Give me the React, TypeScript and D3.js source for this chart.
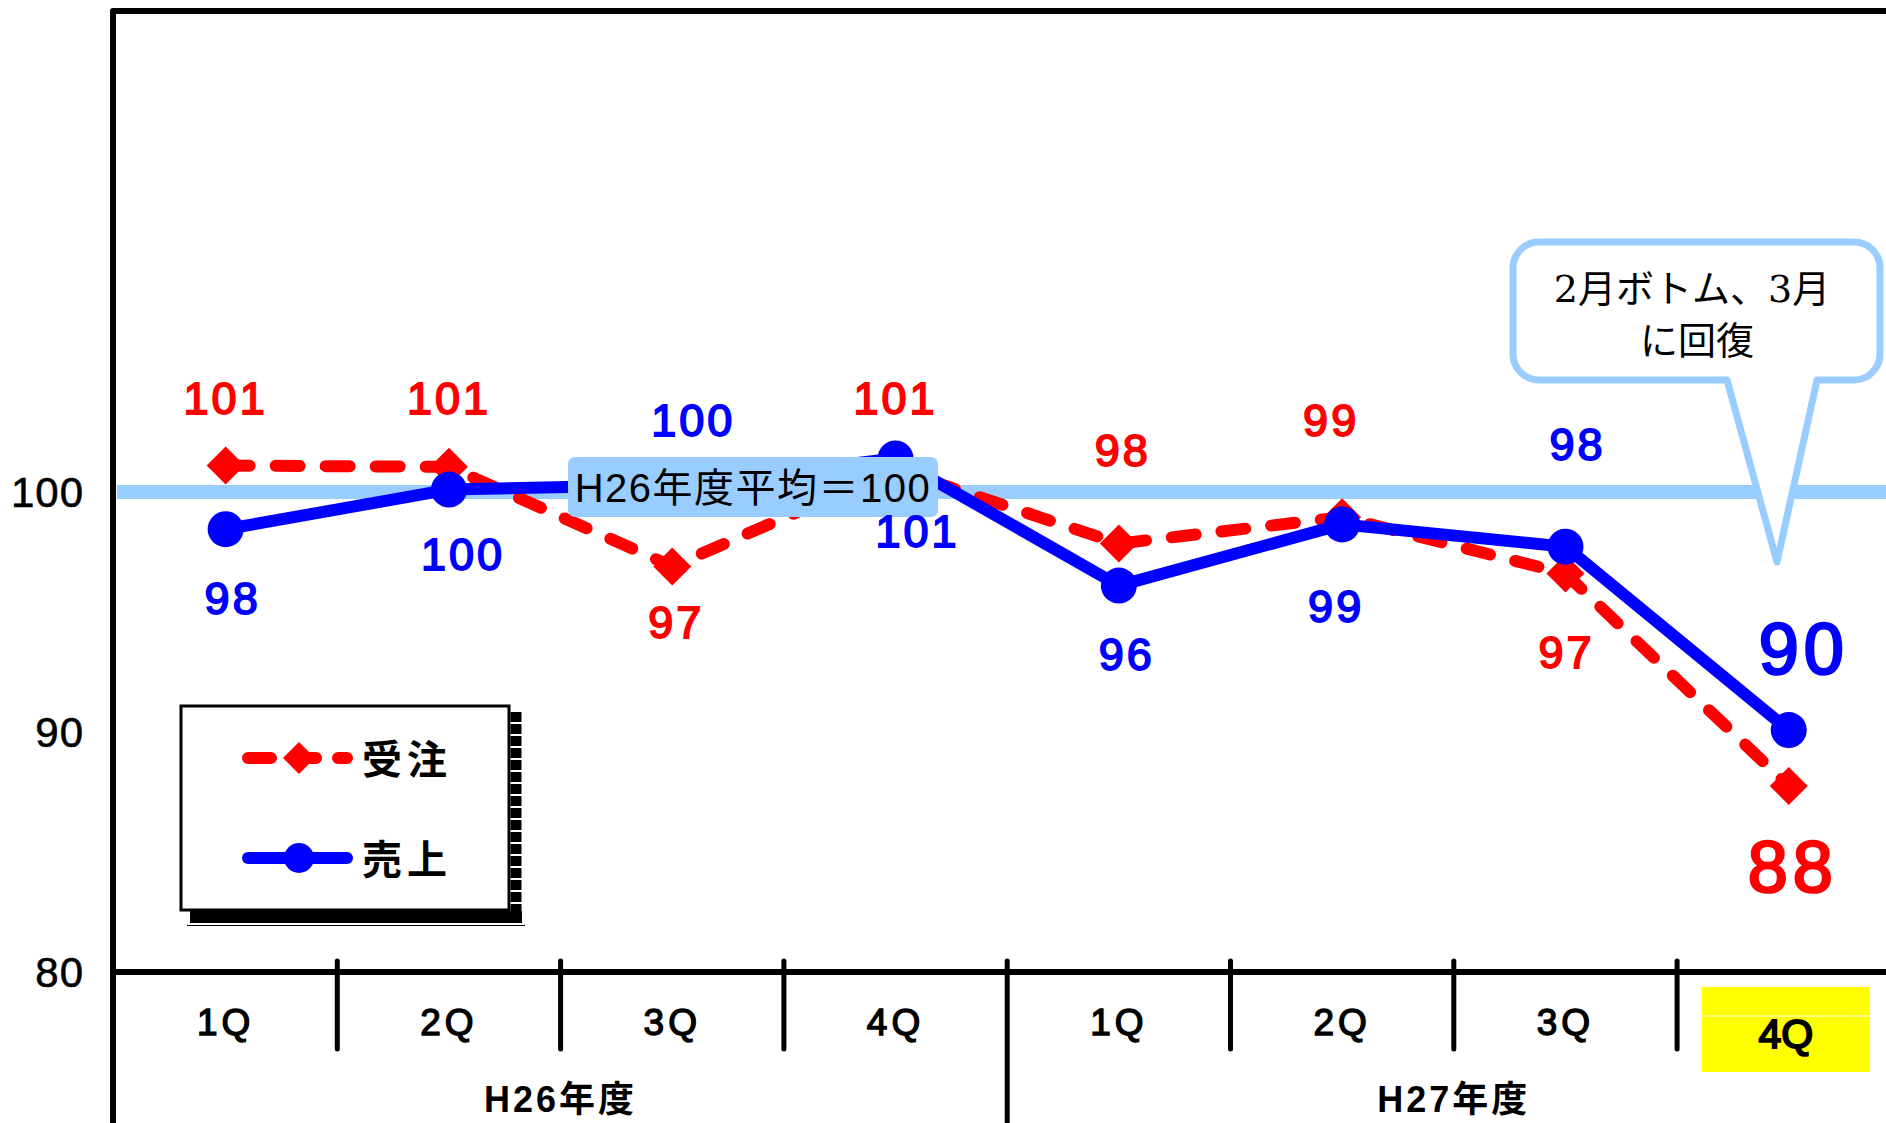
import React from "react";
import * as d3 from "d3";

// ---- data ----
const quarterLabels = ["1Q", "2Q", "3Q", "4Q", "1Q", "2Q", "3Q", "4Q"];
const fiscalYears = ["H26年度", "H27年度"];
const ordersIndex = [101.1, 101.05, 96.9, 100.95, 97.85, 98.95, 96.6, 87.75];
const salesIndex = [98.45, 100.1, 100.3, 101.4, 96.1, 98.65, 97.72, 90.08];
const yTicks = [80, 90, 100];
const baselineValue = 100;
const baselineText = "H26年度平均＝100";
const calloutLines = ["2月ボトム、3月", "に回復"];
const seriesNames = ["受注", "売上"];
const highlightIndex = 7;

// ---- layout (label offsets from points) ----
const orderLabelOffsets = [[0, -68], [0, -69], [4, 55], [0, -71], [4, -94], [-11, -97], [1, 78], [4, 80]];
const salesLabelOffsets = [[7, 69], [14, 64], [21, -65], [22, 72], [8, 68], [-6, 81], [12, -103], [15, -82]];

const W = 1886;
const H = 1123;
const RED = "#FF0000";
const BLUE = "#0000FF";
const LIGHT = "#99CCFF";
const SANS = "'Liberation Sans', 'Noto Sans CJK JP', sans-serif";
const CJK = "'Noto Sans CJK JP', sans-serif";

export default function App() {
  const plotLeft = 114;
  const bandW = 223.3;
  const x = d3
    .scaleBand<number>()
    .domain(d3.range(quarterLabels.length))
    .range([plotLeft, plotLeft + bandW * quarterLabels.length])
    .padding(0);
  const y = d3.scaleLinear().domain([80, 120]).range([972, 12]);
  const cx = (i: number) => (x(i) as number) + x.bandwidth() / 2;
  const axisY = y(80);

  const line = d3
    .line<number>()
    .x((_, i) => cx(i))
    .y((d) => y(d));

  const diamond = (px: number, py: number, r: number) =>
    `M${px},${py - r}L${px + r},${py}L${px},${py + r}L${px - r},${py}Z`;

  // callout path
  const cL = 1513, cT = 242, cR = 1880, cB = 380, cr = 26;
  const tailR = 1817, tailL = 1727, tipX = 1777, tipY = 562;
  const calloutPath =
    `M${cL + cr},${cT}H${cR - cr}A${cr},${cr} 0 0 1 ${cR},${cT + cr}V${cB - cr}` +
    `A${cr},${cr} 0 0 1 ${cR - cr},${cB}H${tailR}L${tipX},${tipY}L${tailL},${cB}` +
    `H${cL + cr}A${cr},${cr} 0 0 1 ${cL},${cB - cr}V${cT + cr}A${cr},${cr} 0 0 1 ${cL + cr},${cT}Z`;

  const groupBoundary = x(4) as number;

  return (
    <div style={{ position: "absolute", left: 0, top: 0, width: W, height: H, overflow: "hidden" }}>
      <svg width={W} height={H} viewBox={`0 0 ${W} ${H}`} style={{ display: "block", background: "#fff" }}>
        {/* frame: top border + left axis */}
        <path
          d={`M${plotLeft - 1},${H}V${y(120) - 1}H${W + 10}`}
          fill="none"
          stroke="#000"
          strokeWidth={6}
          strokeLinejoin="round"
        />
        {/* bottom axis */}
        <line x1={plotLeft - 1} x2={W + 10} y1={axisY} y2={axisY} stroke="#000" strokeWidth={6} />

        {/* y tick labels */}
        {yTicks.map((t) => (
          <text
            key={t}
            x={84}
            y={y(t) + 15}
            textAnchor="end"
            fontFamily={SANS}
            fontSize={42}
            letterSpacing={1}
            fill="#000"
            stroke="#000"
            strokeWidth={0.6}
          >
            {t}
          </text>
        ))}

        {/* category separators */}
        {d3.range(1, quarterLabels.length).map((i) =>
          i === 4 ? null : (
            <line
              key={i}
              x1={x(i) as number}
              x2={x(i) as number}
              y1={961}
              y2={1049}
              stroke="#000"
              strokeWidth={5}
              strokeLinecap="round"
            />
          )
        )}
        <line x1={groupBoundary} x2={groupBoundary} y1={961} y2={H + 5} stroke="#000" strokeWidth={5} strokeLinecap="round" />

        {/* highlight box */}
        <rect
          x={(x(highlightIndex) as number) + 24.5}
          y={987}
          width={168}
          height={85}
          fill="#FFFF00"
        />
        <line
          x1={(x(highlightIndex) as number) + 24.5}
          x2={(x(highlightIndex) as number) + 192.5}
          y1={1016}
          y2={1016}
          stroke="#fff"
          strokeWidth={1.2}
        />

        {/* quarter labels */}
        {quarterLabels.map((q, i) => {
          const hl = i === highlightIndex;
          return (
            <text
              key={i}
              x={cx(i) + (hl ? -3 : 0)}
              y={hl ? 1048 : 1035}
              textAnchor="middle"
              fontFamily={SANS}
              fontSize={hl ? 41 : 37}
              letterSpacing={hl ? 0 : 4}
              fill="#000"
              stroke="#000"
              strokeWidth={hl ? 2 : 1.4}
            >
              {q}
            </text>
          );
        })}

        {/* fiscal year labels */}
        {fiscalYears.map((fy, g) => {
          const x0 = x(g * 4) as number;
          const x1 = (x(g * 4 + 3) as number) + x.bandwidth();
          return (
            <text
              key={fy}
              x={(x0 + x1) / 2}
              y={1112}
              textAnchor="middle"
              fontFamily={SANS}
              fontWeight="bold"
              fontSize={36}
              letterSpacing={3}
              fill="#000"
            >
              {fy}
            </text>
          );
        })}

        {/* baseline 100 */}
        <line x1={plotLeft + 3} x2={W + 10} y1={y(baselineValue)} y2={y(baselineValue)} stroke={LIGHT} strokeWidth={14} />

        {/* orders series (red dashed with diamonds) */}
        <path
          d={line(ordersIndex) || ""}
          fill="none"
          stroke={RED}
          strokeWidth={12}
          strokeDasharray="24 26"
          strokeLinecap="round"
          strokeLinejoin="round"
        />
        {ordersIndex.map((v, i) => (
          <path key={i} d={diamond(cx(i), y(v), 19)} fill={RED} />
        ))}

        {/* sales series (blue solid with circles) */}
        <path d={line(salesIndex) || ""} fill="none" stroke={BLUE} strokeWidth={12} strokeLinejoin="round" />
        {salesIndex.map((v, i) => (
          <circle key={i} cx={cx(i)} cy={y(v)} r={18} fill={BLUE} />
        ))}

        {/* baseline label box */}
        <rect x={568} y={457} width={370} height={60} rx={7} fill={LIGHT} />
        <text
          x={753}
          y={502}
          textAnchor="middle"
          fontFamily={SANS}
          fontSize={40}
          letterSpacing={1.5}
          fill="#000"
        >
          {baselineText}
        </text>

        {/* value labels */}
        {ordersIndex.map((v, i) => {
          const big = i === ordersIndex.length - 1;
          const fs = big ? 72 : 45;
          return (
            <text
              key={"o" + i}
              x={cx(i) + orderLabelOffsets[i][0]}
              y={y(v) + orderLabelOffsets[i][1] + fs * 0.36}
              textAnchor="middle"
              fontFamily={SANS}
              fontSize={fs}
              letterSpacing={big ? 5 : 3}
              fill={RED}
              stroke={RED}
              strokeWidth={big ? 2.6 : 1.8}
            >
              {Math.round(v)}
            </text>
          );
        })}
        {salesIndex.map((v, i) => {
          const big = i === salesIndex.length - 1;
          const fs = big ? 72 : 45;
          return (
            <text
              key={"s" + i}
              x={cx(i) + salesLabelOffsets[i][0]}
              y={y(v) + salesLabelOffsets[i][1] + fs * 0.36}
              textAnchor="middle"
              fontFamily={SANS}
              fontSize={fs}
              letterSpacing={big ? 5 : 3}
              fill={BLUE}
              stroke={BLUE}
              strokeWidth={big ? 2.6 : 1.8}
            >
              {Math.round(v)}
            </text>
          );
        })}

        {/* callout */}
        <path d={calloutPath} fill="#fff" stroke={LIGHT} strokeWidth={7} strokeLinejoin="round" />
        <text x={1692} y={302} textAnchor="middle" fontFamily="'DejaVu Serif', 'Noto Sans CJK JP', serif" fontSize={38} fill="#000">
          {calloutLines[0]}
        </text>
        <text x={1697} y={354} textAnchor="middle" fontFamily="'DejaVu Serif', 'Noto Sans CJK JP', serif" fontSize={38} fill="#000">
          {calloutLines[1]}
        </text>

        {/* legend */}
        <rect x={190} y={911} width={332} height={12} fill="#000" />
        <line x1={516} x2={516} y1={712} y2={923} stroke="#000" strokeWidth={11} strokeDasharray="10 2" />
        <line x1={187} x2={525} y1={925.5} y2={925.5} stroke="#000" strokeWidth={1} />
        <rect x={181} y={706} width={328} height={204} fill="#fff" stroke="#000" strokeWidth={3} />
        <line
          x1={248}
          x2={347}
          y1={758}
          y2={758}
          stroke={RED}
          strokeWidth={12}
          strokeDasharray="23 22"
          strokeLinecap="round"
        />
        <path d={diamond(299, 758, 16)} fill={RED} />
        <text x={362} y={774} fontFamily={CJK} fontWeight="bold" fontSize={40} letterSpacing={5} fill="#000">
          {seriesNames[0]}
        </text>
        <line x1={248} x2={347} y1={858} y2={858} stroke={BLUE} strokeWidth={12} strokeLinecap="round" />
        <circle cx={299} cy={858} r={15} fill={BLUE} />
        <text x={362} y={874} fontFamily={CJK} fontWeight="bold" fontSize={40} letterSpacing={5} fill="#000">
          {seriesNames[1]}
        </text>
      </svg>
    </div>
  );
}
